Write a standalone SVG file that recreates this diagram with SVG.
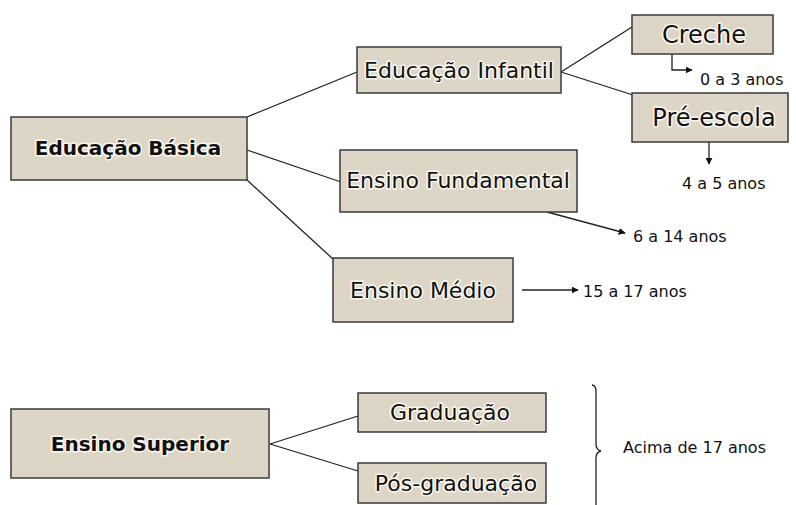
<svg xmlns="http://www.w3.org/2000/svg" width="796" height="505" viewBox="0 0 796 505">
<style>
.box{fill:#ddd5c5;stroke:#3a3a3a;stroke-width:1.5}
.t{font-family:"DejaVu Sans",Verdana,sans-serif;fill:#111;text-anchor:middle;stroke:#fbf8f0;stroke-width:3;stroke-linejoin:round;paint-order:stroke}
.b{font-weight:bold;font-size:20px}
.n{font-size:22px}
.m{font-size:24px}
.lab{font-family:"DejaVu Sans",Verdana,sans-serif;font-size:16px;fill:#111}
.ln{stroke:#222;stroke-width:1.3;fill:none}
.ar{stroke:#222;stroke-width:1.3;fill:none;marker-end:url(#ah)}
</style>
<defs>
<marker id="ah" viewBox="0 0 10 10" refX="9" refY="5" markerWidth="7" markerHeight="7" markerUnits="userSpaceOnUse" orient="auto">
<path d="M0,0 L10,5 L0,10 z" fill="#111"/>
</marker>
</defs>
<rect width="796" height="505" fill="#ffffff"/>
<g id="connectors">
<line class="ln" x1="247" y1="117" x2="357" y2="72"/>
<line class="ln" x1="247" y1="150" x2="341" y2="182"/>
<line class="ln" x1="247" y1="180" x2="334" y2="260"/>
<line class="ln" x1="561" y1="72" x2="632" y2="27"/>
<line class="ln" x1="561" y1="72" x2="633" y2="95"/>
<path class="ar" d="M672,54 L672,70 L692,70"/>
<line class="ar" x1="709" y1="142" x2="709" y2="164"/>
<line class="ar" x1="547" y1="212" x2="625" y2="233"/>
<line class="ar" x1="522" y1="290" x2="578" y2="290"/>
<line class="ln" x1="270" y1="444" x2="358" y2="416"/>
<line class="ln" x1="270" y1="444" x2="358" y2="471"/>
<path class="ln" d="M592,385 Q596,385 596,392 L596,444 Q596,450 601,451 Q596,452 596,458 L596,505"/>
</g>
<g id="educacao-basica">
<rect class="box" x="11" y="117" width="236" height="63"/>
<text class="t b" x="128" y="155">Educação Básica</text>
</g>
<g id="educacao-infantil">
<rect class="box" x="357" y="47" width="204" height="46"/>
<text class="t n" x="459" y="78">Educação Infantil</text>
</g>
<g id="creche">
<rect class="box" x="632" y="15" width="141" height="39"/>
<text class="t m" x="704" y="43">Creche</text>
</g>
<g id="pre-escola">
<rect class="box" x="632" y="93" width="156" height="49"/>
<text class="t m" x="714" y="126">Pré-escola</text>
</g>
<g id="ensino-fundamental">
<rect class="box" x="340" y="150" width="237" height="62"/>
<text class="t n" x="458" y="188">Ensino Fundamental</text>
</g>
<g id="ensino-medio">
<rect class="box" x="333" y="258" width="180" height="64"/>
<text class="t n" x="423" y="298">Ensino Médio</text>
</g>
<g id="ensino-superior">
<rect class="box" x="11" y="409" width="258" height="69"/>
<text class="t b" x="140" y="451">Ensino Superior</text>
</g>
<g id="graduacao">
<rect class="box" x="358" y="393" width="188" height="39"/>
<text class="t n" x="450" y="420">Graduação</text>
</g>
<g id="pos-graduacao">
<rect class="box" x="358" y="463" width="188" height="40"/>
<text class="t n" x="456" y="491">Pós-graduação</text>
</g>
<g id="labels">
<text class="lab" x="700" y="85">0 a 3 anos</text>
<text class="lab" x="682" y="189">4 a 5 anos</text>
<text class="lab" x="633" y="242">6 a 14 anos</text>
<text class="lab" x="583" y="297">15 a 17 anos</text>
<text class="lab" x="623" y="453">Acima de 17 anos</text>
</g>
</svg>
